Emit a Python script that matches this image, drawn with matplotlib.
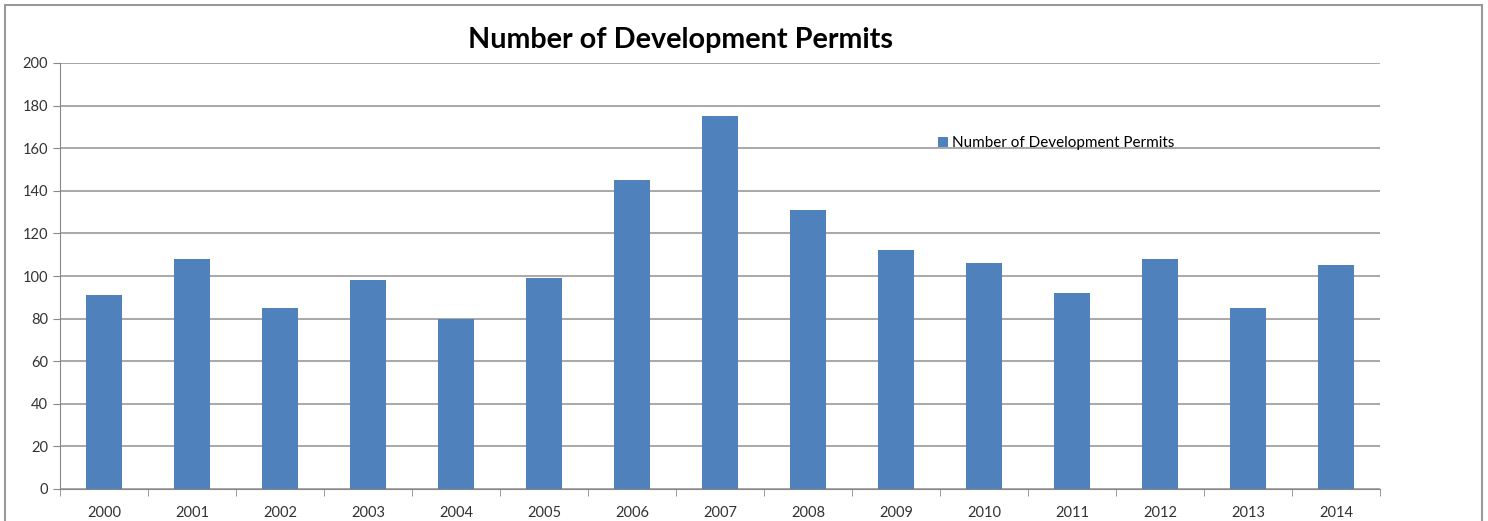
import matplotlib.pyplot as plt
from matplotlib.patches import Rectangle

years = ['2000', '2001', '2002', '2003', '2004', '2005', '2006', '2007',
         '2008', '2009', '2010', '2011', '2012', '2013', '2014']
permits = [91, 108, 85, 98, 80, 99, 145, 175, 131, 112, 106, 92, 108, 85, 105]

plt.rcParams['font.family'] = ['Lato', 'DejaVu Sans']

fig = plt.figure(figsize=(14.88, 5.21), dpi=100, facecolor='white')
ax = fig.add_axes([60 / 1488, 32 / 521, 1320 / 1488, 426 / 521])

x = range(len(years))
ax.bar(x, permits, width=0.4, color='#4f81bd', zorder=3,
       label='Number of Development Permits')

ax.set_ylim(0, 200)
ax.set_xlim(-0.5, len(years) - 0.5)
ax.set_yticks(range(0, 201, 20))
ax.set_xticks(list(x))
ax.set_xticklabels(years)
ax.set_xticks([i - 0.5 for i in range(len(years) + 1)], minor=True)
ax.tick_params(axis='x', which='major', length=0, labelsize=10.5, pad=12, colors='#333333')
ax.tick_params(axis='x', which='minor', length=5, color='#888888', direction='out')
ax.tick_params(axis='y', length=5, color='#888888', labelsize=10.5, colors='#333333')
ax.grid(axis='y', color='#999999', linewidth=1.2, zorder=0)

for side in ['top', 'right']:
    ax.spines[side].set_visible(False)
ax.spines['left'].set_color('#888888')
ax.spines['bottom'].set_color('#888888')

fig.text(681 / 1488, 1 - 40 / 521, 'Number of Development Permits',
         ha='center', va='center', fontsize=20.7, fontweight='bold')

ax.legend(loc='upper left', bbox_to_anchor=(0.655, 0.86), frameon=False,
          fontsize=11, handlelength=0.6, handleheight=0.6, handletextpad=0.3)

fig.patches.append(Rectangle((5 / 1488, -0.05), 1477 / 1488, 1.04,
                             transform=fig.transFigure, fill=False,
                             edgecolor='#999999', linewidth=1.5))

plt.savefig('out.png', dpi=100, facecolor='white')
